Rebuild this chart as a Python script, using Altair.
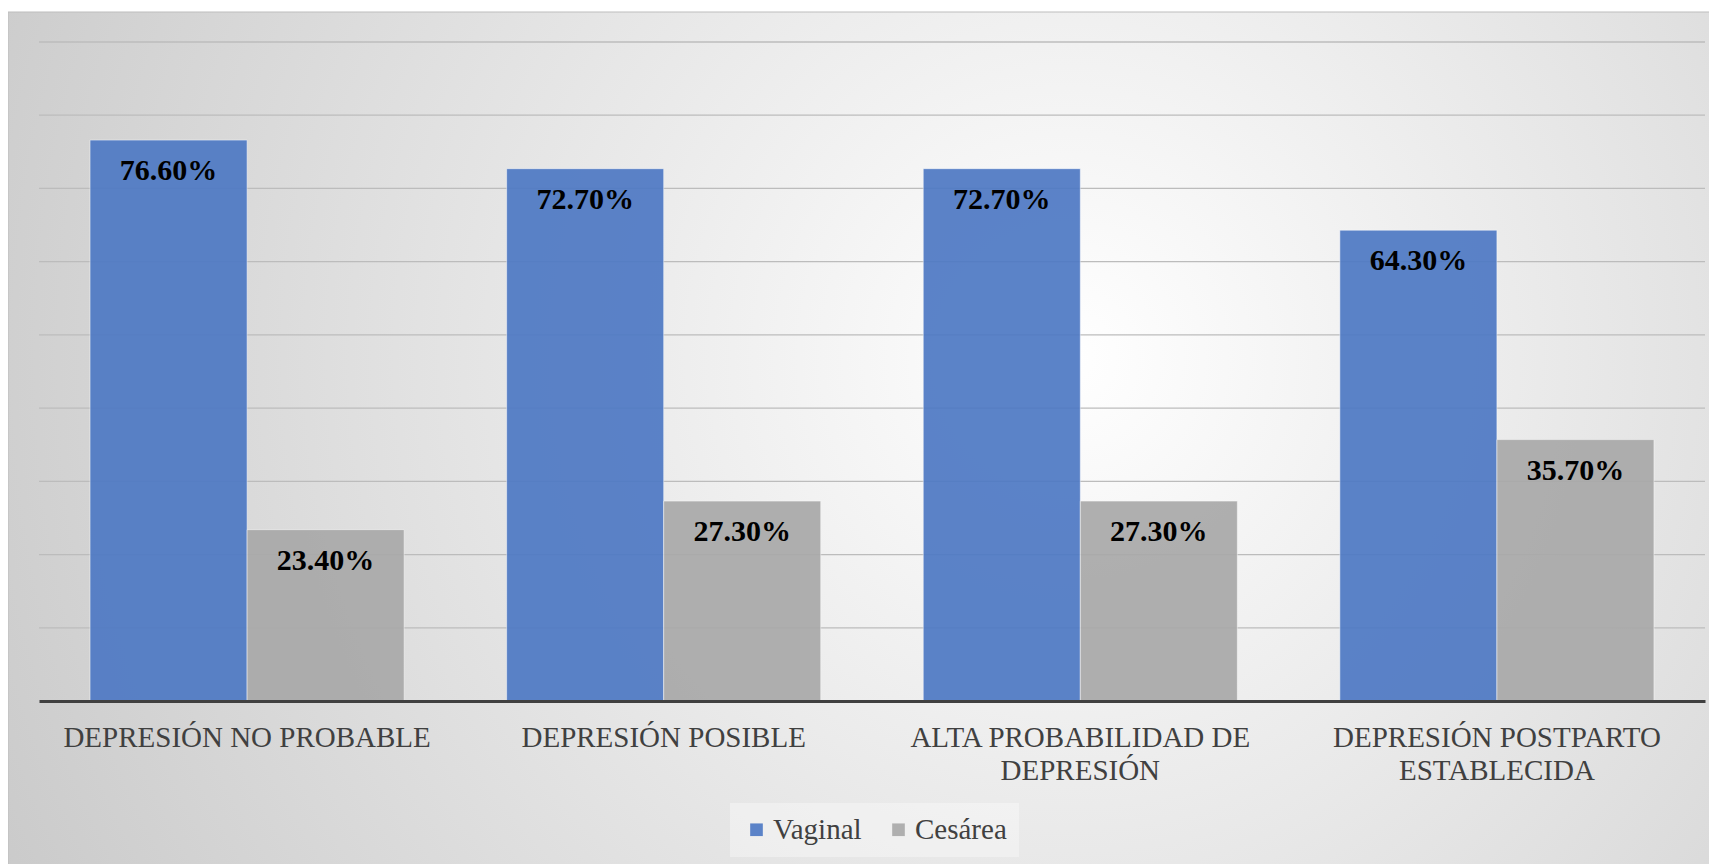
import altair as alt
import pandas as pd

categories = [
    "DEPRESIÓN NO PROBABLE",
    "DEPRESIÓN POSIBLE",
    "ALTA PROBABILIDAD DE DEPRESIÓN",
    "DEPRESIÓN POSTPARTO ESTABLECIDA",
]
series = ["Vaginal", "Cesárea"]
vaginal = [76.6, 72.7, 72.7, 64.3]
cesarea = [23.4, 27.3, 27.3, 35.7]
gridlines = [10, 20, 30, 40, 50, 60, 70, 80, 90]
wrapped = {
    "ALTA PROBABILIDAD DE DEPRESIÓN": ["ALTA PROBABILIDAD DE", "DEPRESIÓN"],
    "DEPRESIÓN POSTPARTO ESTABLECIDA": ["DEPRESIÓN POSTPARTO", "ESTABLECIDA"],
}

rows = []
for c, v, s in zip(categories, vaginal, cesarea):
    rows.append({"cat": c, "serie": "Vaginal", "value": v})
    rows.append({"cat": c, "serie": "Cesárea", "value": s})
df = pd.DataFrame(rows)

label_expr = "datum.label"
for k, lines in wrapped.items():
    arr = "[" + ", ".join("'" + l + "'" for l in lines) + "]"
    label_expr = f"datum.label == '{k}' ? {arr} : ({label_expr})"

W, H = 1666, 659
PAD = {"left": 31, "top": 34, "right": 4, "bottom": 163}
FONT = "Liberation Serif"
BLUE = "#4e79c4"
GRAY = "#a9a9a9"

yscale = alt.Scale(domain=[0, 90], nice=False, zero=True)
xscale = alt.Scale(domain=categories, paddingInner=0.246, paddingOuter=0.1225)

gradient = {
    "gradient": "radial",
    "x1": 0.62, "y1": 0.45, "r1": 0,
    "x2": 0.62, "y2": 0.45, "r2": 0.8,
    "stops": [
        {"offset": 0, "color": "#ffffff"},
        {"offset": 1, "color": "#c2c2c2"},
    ],
}

bg = alt.Chart(pd.DataFrame({"k": [0]})).mark_rect(
    fill=gradient, stroke="#bdbdbd", strokeWidth=1
).encode(
    x=alt.value(-PAD["left"]),
    x2=alt.value(W + PAD["right"] + 10),
    y=alt.value(-30),
    y2=alt.value(H + PAD["bottom"] + 10),
)

grid = alt.Chart(pd.DataFrame({"g": gridlines})).mark_rule(
    color="#bcbcbc", strokeWidth=1.3
).encode(
    y=alt.Y("g:Q", scale=yscale, axis=None),
    x=alt.value(0),
    x2=alt.value(W),
)

xaxis = alt.Axis(
    title=None,
    labelAngle=0,
    labelExpr=label_expr,
    labelLimit=0,
    labelFont=FONT,
    labelFontSize=29,
    labelColor="#404040",
    labelPadding=22,
    labelLineHeight=33,
    labelBaseline="top",
    ticks=False,
    grid=False,
    domainColor="#404040",
    domainWidth=3,
    zindex=1,
)

bars = alt.Chart(df).mark_bar(
    opacity=0.92, stroke="#ffffff", strokeOpacity=0.5, strokeWidth=1
).encode(
    x=alt.X("cat:N", sort=categories, scale=xscale, axis=xaxis),
    xOffset=alt.XOffset("serie:N", sort=series),
    y=alt.Y("value:Q", scale=yscale, axis=None),
    color=alt.Color(
        "serie:N",
        sort=series,
        scale=alt.Scale(domain=series, range=[BLUE, GRAY]),
        legend=alt.Legend(
            title=None,
            orient="none",
            legendX=691,
            legendY=761,
            direction="horizontal",
            symbolType="square",
            symbolSize=160,
            symbolStrokeWidth=0,
            labelFont=FONT,
            labelFontSize=29,
            labelColor="#404040",
            labelOffset=2,
            columnPadding=22,
            padding=12,
            fillColor="rgba(255,255,255,0.35)",
        ),
    ),
)

text = alt.Chart(df).transform_calculate(
    lbl="format(datum.value, '.2f') + '%'"
).mark_text(
    font=FONT, fontSize=30, fontWeight="bold", color="#000000",
    baseline="middle", dy=31,
).encode(
    x=alt.X("cat:N", sort=categories, scale=xscale, axis=xaxis),
    xOffset=alt.XOffset("serie:N", sort=series),
    y=alt.Y("value:Q", scale=yscale, axis=None),
    text="lbl:N",
)

chart = alt.layer(bg, grid, bars, text).properties(
    width=W, height=H, padding=PAD, autosize="none"
).configure_view(stroke=None).configure(
    background="#ffffff", font=FONT
).configure_legend(labelFont=FONT).configure_axis(labelFont=FONT)

chart.save("out.html", embed_options={"renderer": "svg", "actions": False})
